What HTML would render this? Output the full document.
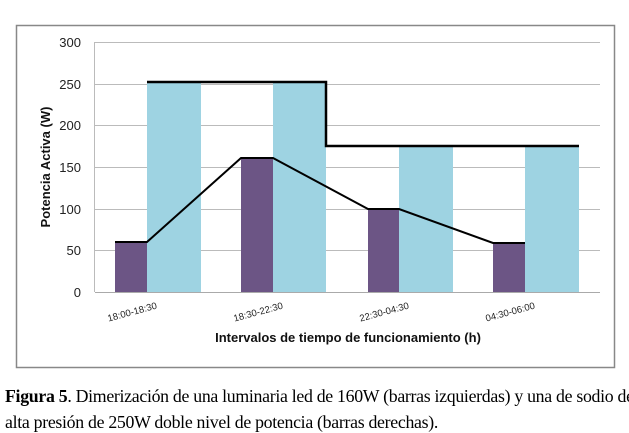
<!DOCTYPE html>
<html><head><meta charset="utf-8"><style>
body{margin:0;width:629px;height:433px;background:#fff;overflow:hidden;position:relative}
.cap{position:absolute;left:5px;white-space:nowrap;font-family:"Liberation Serif",serif;font-size:17.8px;color:#000;letter-spacing:-0.3px}
</style></head><body>
<svg width="629" height="433" style="position:absolute;left:0;top:0" font-family="Liberation Sans, sans-serif">
<rect x="16.5" y="25.5" width="598" height="342" fill="#fff" stroke="#888" stroke-width="1.5"/>
<g stroke="#bbb" stroke-width="1">
<line x1="95" y1="42.5" x2="600" y2="42.5"/><line x1="95" y1="84.5" x2="600" y2="84.5"/>
<line x1="95" y1="125.5" x2="600" y2="125.5"/><line x1="95" y1="167.5" x2="600" y2="167.5"/>
<line x1="95" y1="209.5" x2="600" y2="209.5"/><line x1="95" y1="250.5" x2="600" y2="250.5"/>
<line x1="94.5" y1="42" x2="94.5" y2="292"/>
</g>
<g fill="#9ed3e2">
<rect x="147" y="83" width="54" height="209"/><rect x="273" y="83" width="53" height="209"/>
<rect x="399" y="146" width="54" height="146"/><rect x="525" y="146" width="54" height="146"/>
</g>
<g fill="#6c5585">
<rect x="115" y="242" width="32" height="50"/><rect x="241" y="158" width="32" height="134"/>
<rect x="368" y="209" width="31" height="83"/><rect x="493" y="243" width="32" height="49"/>
</g>
<line x1="95" y1="292.5" x2="600" y2="292.5" stroke="#aaa"/>
<polyline points="147,82 326,82 326,146 579,146" fill="none" stroke="#000" stroke-width="2.5"/>
<polyline points="115,242 147,242 241,158 273,158 368,209 399,209 493,243 525,243" fill="none" stroke="#000" stroke-width="2"/>
<g font-size="13" fill="#222" text-anchor="end">
<text x="81" y="47">300</text><text x="81" y="89">250</text><text x="81" y="130">200</text>
<text x="81" y="172">150</text><text x="81" y="214">100</text><text x="81" y="255">50</text><text x="81" y="297">0</text>
</g>
<g font-size="9.5" fill="#222" text-anchor="middle">
<text transform="translate(133,315) rotate(-15)">18:00-18:30</text>
<text transform="translate(259,315) rotate(-15)">18:30-22:30</text>
<text transform="translate(385,315) rotate(-15)">22:30-04:30</text>
<text transform="translate(511,315) rotate(-15)">04:30-06:00</text>
</g>
<text x="348" y="342" font-size="13" font-weight="bold" text-anchor="middle" fill="#111">Intervalos de tiempo de funcionamiento (h)</text>
<text transform="translate(50,167) rotate(-90)" font-size="13" font-weight="bold" text-anchor="middle" fill="#111">Potencia Activa (W)</text>
</svg>
<div class="cap" style="top:386px"><b>Figura 5</b>. Dimerización de una luminaria led de 160W (barras izquierdas) y una de sodio de</div>
<div class="cap" style="top:412px">alta presión de 250W doble nivel de potencia (barras derechas).</div>
</body></html>
